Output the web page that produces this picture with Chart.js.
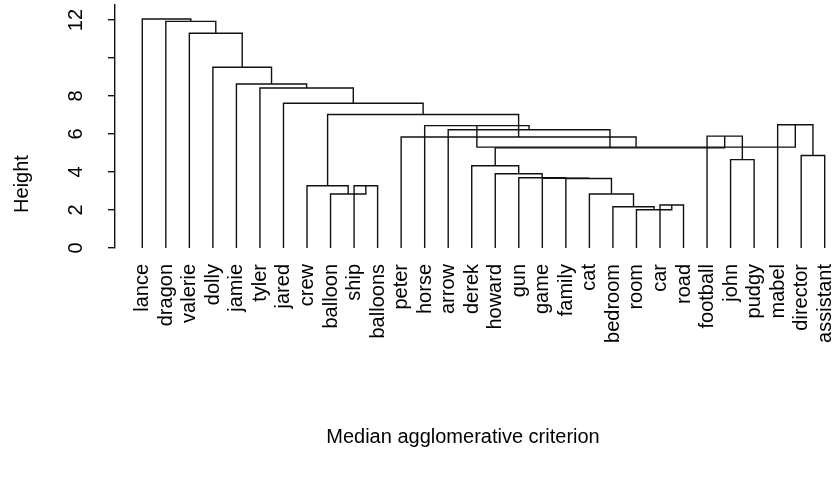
<!DOCTYPE html>
<html>
<head>
<meta charset="utf-8">
<script src="https://cdn.jsdelivr.net/npm/chart.js@4.4.1/dist/chart.umd.min.js"></script>
<style>
  body { margin: 0; background: #fff; }
</style>
</head>
<body>
<canvas id="dendro" width="832" height="477"></canvas>
<script>
// leaves in the order they are drawn, left to right
const leafLabels = ["lance", "dragon", "valerie", "dolly", "jamie", "tyler", "jared", "crew",
  "balloon", "ship", "balloons", "peter", "horse", "arrow", "derek", "howard", "gun", "game",
  "family", "cat", "bedroom", "room", "car", "road", "football", "john", "pudgy", "mabel",
  "director", "assistant"];

// merges like R's hclust: negative = leaf position (1-based), positive = earlier merge
const mergeLeft   = [-23, -22, -21, -20, -19, -18, -17, -16, -15, -26, -25, 9, -14, -13, -29,
  -28, 14, -12, -10, -9, -8, 21, -7, -6, -5, -4, -3, -2, -1];
const mergeRight  = [-24, 1, 2, 3, 4, 5, 6, 7, 8, -27, 10, 11, 12, 13, -30,
  15, 16, 17, -11, 19, 20, 18, 22, 23, 24, 25, 26, 27, 28];
const mergeHeight = [2.26, 2.01, 2.17, 2.84, 3.66, 3.67, 3.70, 3.91, 4.33, 4.65, 5.89, 5.27, 6.22, 6.44, 4.87,
  6.49, 5.31, 5.84, 3.28, 2.84, 3.28, 7.03, 7.62, 8.42, 8.63, 9.51, 11.30, 11.93, 12.05];

const yTickValues = [0, 2, 4, 6, 8, 10, 12];
const yTickLabels = ["0", "2", "4", "6", "8", "", "12"];

const xTitle = "Median agglomerative criterion";
const yTitle = "Height";

// position + height of every node, leaves sit at 0
const nodeX = [], nodeH = [];
function nodePos(ref) {
  if (ref < 0) return { x: -ref, h: 0 };
  return { x: nodeX[ref - 1], h: nodeH[ref - 1] };
}
const datasets = [];
mergeHeight.forEach((h, i) => {
  const a = nodePos(mergeLeft[i]);
  const b = nodePos(mergeRight[i]);
  nodeX.push((a.x + b.x) / 2);
  nodeH.push(h);
  datasets.push({
    data: [{ x: a.x, y: a.h }, { x: a.x, y: h }, { x: b.x, y: h }, { x: b.x, y: b.h }],
    showLine: true,
    borderColor: '#111',
    borderWidth: 1.4,
    pointRadius: 0,
    tension: 0,
    fill: false
  });
});

const FONT = '20px "Liberation Sans", Arial, Helvetica, sans-serif';

const textPlugin = {
  id: 'rTexts',
  afterDraw(chart) {
    const ctx = chart.ctx;
    const xs = chart.scales.x, ys = chart.scales.y;
    ctx.save();
    ctx.fillStyle = '#000';
    ctx.font = FONT;
    ctx.textBaseline = 'alphabetic';

    // leaf labels, rotated, ending just under the baseline
    const y0 = ys.getPixelForValue(0);
    leafLabels.forEach((lab, i) => {
      ctx.save();
      ctx.translate(xs.getPixelForValue(i + 1), y0 + 16);
      ctx.rotate(-Math.PI / 2);
      ctx.textAlign = 'right';
      ctx.fillText(lab, 0, 6);
      ctx.restore();
    });

    // y tick labels, parallel to the axis
    yTickValues.forEach((v, i) => {
      if (!yTickLabels[i]) return;
      ctx.save();
      ctx.translate(81.5, ys.getPixelForValue(v));
      ctx.rotate(-Math.PI / 2);
      ctx.textAlign = 'center';
      ctx.fillText(yTickLabels[i], 0, 0);
      ctx.restore();
    });

    // axis titles
    ctx.save();
    ctx.translate(28, 184);
    ctx.rotate(-Math.PI / 2);
    ctx.textAlign = 'center';
    ctx.fillText(yTitle, 0, 0);
    ctx.restore();

    ctx.textAlign = 'center';
    ctx.fillText(xTitle, 463, 443);
    ctx.restore();
  }
};

new Chart(document.getElementById('dendro'), {
  type: 'scatter',
  data: { datasets },
  plugins: [textPlugin],
  options: {
    responsive: false,
    animation: false,
    devicePixelRatio: 1,
    layout: { padding: { left: 108, top: 5, right: 0, bottom: 229 } },
    plugins: { legend: { display: false }, tooltip: { enabled: false } },
    scales: {
      x: { type: 'linear', display: false, min: -0.16, max: 30.31 },
      y: {
        type: 'linear',
        min: 0,
        max: 12.79,
        afterBuildTicks: (scale) => { scale.ticks = yTickValues.map(v => ({ value: v })); },
        border: { display: true, color: '#111', width: 1.4 },
        grid: { display: true, drawOnChartArea: false, drawTicks: true, tickLength: 7, color: '#111', lineWidth: 1.4 },
        ticks: { display: false }
      }
    }
  }
});
</script>
</body>
</html>
